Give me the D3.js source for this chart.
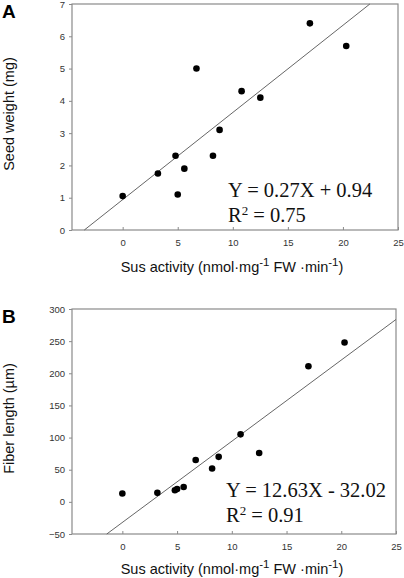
<!DOCTYPE html>
<html><head><meta charset="utf-8">
<script src="https://cdn.jsdelivr.net/npm/d3@7"></script>
<style>body{margin:0;background:#fff}svg{display:block}</style>
</head><body>
<svg id="c" width="404" height="578"></svg>
<script>
const susA = [0, 3.2, 4.8, 5.0, 5.6, 6.7, 8.2, 8.8, 10.8, 12.5, 17.0, 20.3];
const seedWeight = [1.05, 1.75, 2.3, 1.1, 1.9, 5.0, 2.3, 3.1, 4.3, 4.1, 6.4, 5.7];
const susB = [0, 3.2, 4.8, 5.0, 5.6, 6.7, 8.2, 8.8, 10.8, 12.5, 17.0, 20.3];
const fiberLength = [13, 14, 18, 20, 23, 65, 52, 70, 105, 76, 211, 248];
const xTicks = [0, 5, 10, 15, 20, 25];
const yTicksA = [0, 1, 2, 3, 4, 5, 6, 7];
const yTicksB = [-50, 0, 50, 100, 150, 200, 250, 300];
const fitA = {slope: 0.27, intercept: 0.94, eq: "Y = 0.27X + 0.94", r2: "0.75"};
const fitB = {slope: 12.63, intercept: -32.02, eq: "Y = 12.63X - 32.02", r2: "0.91"};

const svg = d3.select("#c");
const grey = "#8a8a8a";

function panel(o) {
  const g = svg.append("g");
  const x = d3.scaleLinear().domain([-4.6, 25]).range([o.left, o.right]);
  const y = d3.scaleLinear().domain(o.ydom).range([o.bottom, o.top]);
  g.append("rect").attr("x", o.left).attr("y", o.top)
    .attr("width", o.right - o.left).attr("height", o.bottom - o.top)
    .attr("fill", "none").attr("stroke", grey).attr("stroke-width", 1.2);
  const xa = g.append("g").attr("transform", `translate(0,${o.bottom})`)
    .call(d3.axisBottom(x).tickValues(xTicks).tickSize(-3).tickPadding(9).tickFormat(d3.format("d")));
  const ya = g.append("g").attr("transform", `translate(${o.left},0)`)
    .call(d3.axisLeft(y).tickValues(o.yticks).tickSize(3).tickPadding(4).tickFormat(d3.format("d")));
  [xa, ya].forEach(a => {
    a.select(".domain").remove();
    a.selectAll("line").attr("stroke", grey);
    a.selectAll("text").attr("fill", "#333").style("font-family", "Arial, 'Liberation Sans', sans-serif").style("font-size", "9.5px");
  });
  const [x0, x1] = x.domain();
  const [ymin, ymax] = y.domain();
  let xs = Math.max(x0, (ymin - o.fit.intercept) / o.fit.slope);
  let xe = Math.min(x1, (ymax - o.fit.intercept) / o.fit.slope);
  g.append("line").attr("x1", x(xs)).attr("y1", y(o.fit.slope * xs + o.fit.intercept))
    .attr("x2", x(xe)).attr("y2", y(o.fit.slope * xe + o.fit.intercept))
    .attr("stroke", "#555").attr("stroke-width", 0.9);
  g.selectAll("circle").data(o.xs).join("circle")
    .attr("cx", d => x(d)).attr("cy", (d, i) => y(o.ys[i])).attr("r", 3.3).attr("fill", "#000");
  const ff = "'Times New Roman', 'Liberation Serif', serif";
  g.append("text").attr("x", o.eqx).attr("y", o.eqy).attr("font-family", ff).attr("font-size", 20.5).attr("fill", "#111")
    .text(o.fit.eq);
  const r = g.append("text").attr("x", o.eqx).attr("y", o.eqy + 25).attr("font-family", ff).attr("font-size", 20.5).attr("fill", "#111");
  r.append("tspan").text("R");
  r.append("tspan").attr("font-size", 13).attr("dy", -7).text("2");
  r.append("tspan").attr("dy", 7).text(" = " + o.fit.r2);
  const af = "Arial, 'Liberation Sans', sans-serif";
  const xt = g.append("text").attr("x", 232).attr("y", o.xtitley).attr("text-anchor", "middle")
    .attr("font-family", af).attr("font-size", 14.5).attr("fill", "#111");
  xt.append("tspan").text("Sus activity (nmol·mg");
  xt.append("tspan").attr("font-size", 11.5).attr("dy", -6).text("-1");
  xt.append("tspan").attr("dy", 6).text(" FW ·min");
  xt.append("tspan").attr("font-size", 11.5).attr("dy", -6).text("-1");
  xt.append("tspan").attr("dy", 6).text(")");
  g.append("text").attr("transform", `translate(14,${(o.top + o.bottom) / 2 - 3}) rotate(-90)`)
    .attr("text-anchor", "middle").attr("font-family", af).attr("font-size", 14.5).attr("fill", "#111")
    .text(o.ytitle);
  g.append("text").attr("x", 2).attr("y", o.top + 14).attr("font-family", af).attr("font-weight", "bold")
    .attr("font-size", 19).attr("fill", "#000").text(o.label);
}

panel({left: 72, right: 398, top: 4, bottom: 230, ydom: [0, 7], yticks: yTicksA, xs: susA, ys: seedWeight,
  fit: fitA, eqx: 228, eqy: 197, xtitley: 272, ytitle: "Seed weight (mg)", label: "A"});
panel({left: 72, right: 396, top: 309, bottom: 534, ydom: [-50, 300], yticks: yTicksB, xs: susB, ys: fiberLength,
  fit: fitB, eqx: 226, eqy: 497, xtitley: 574, ytitle: "Fiber length (µm)", label: "B"});
</script>
</body></html>
